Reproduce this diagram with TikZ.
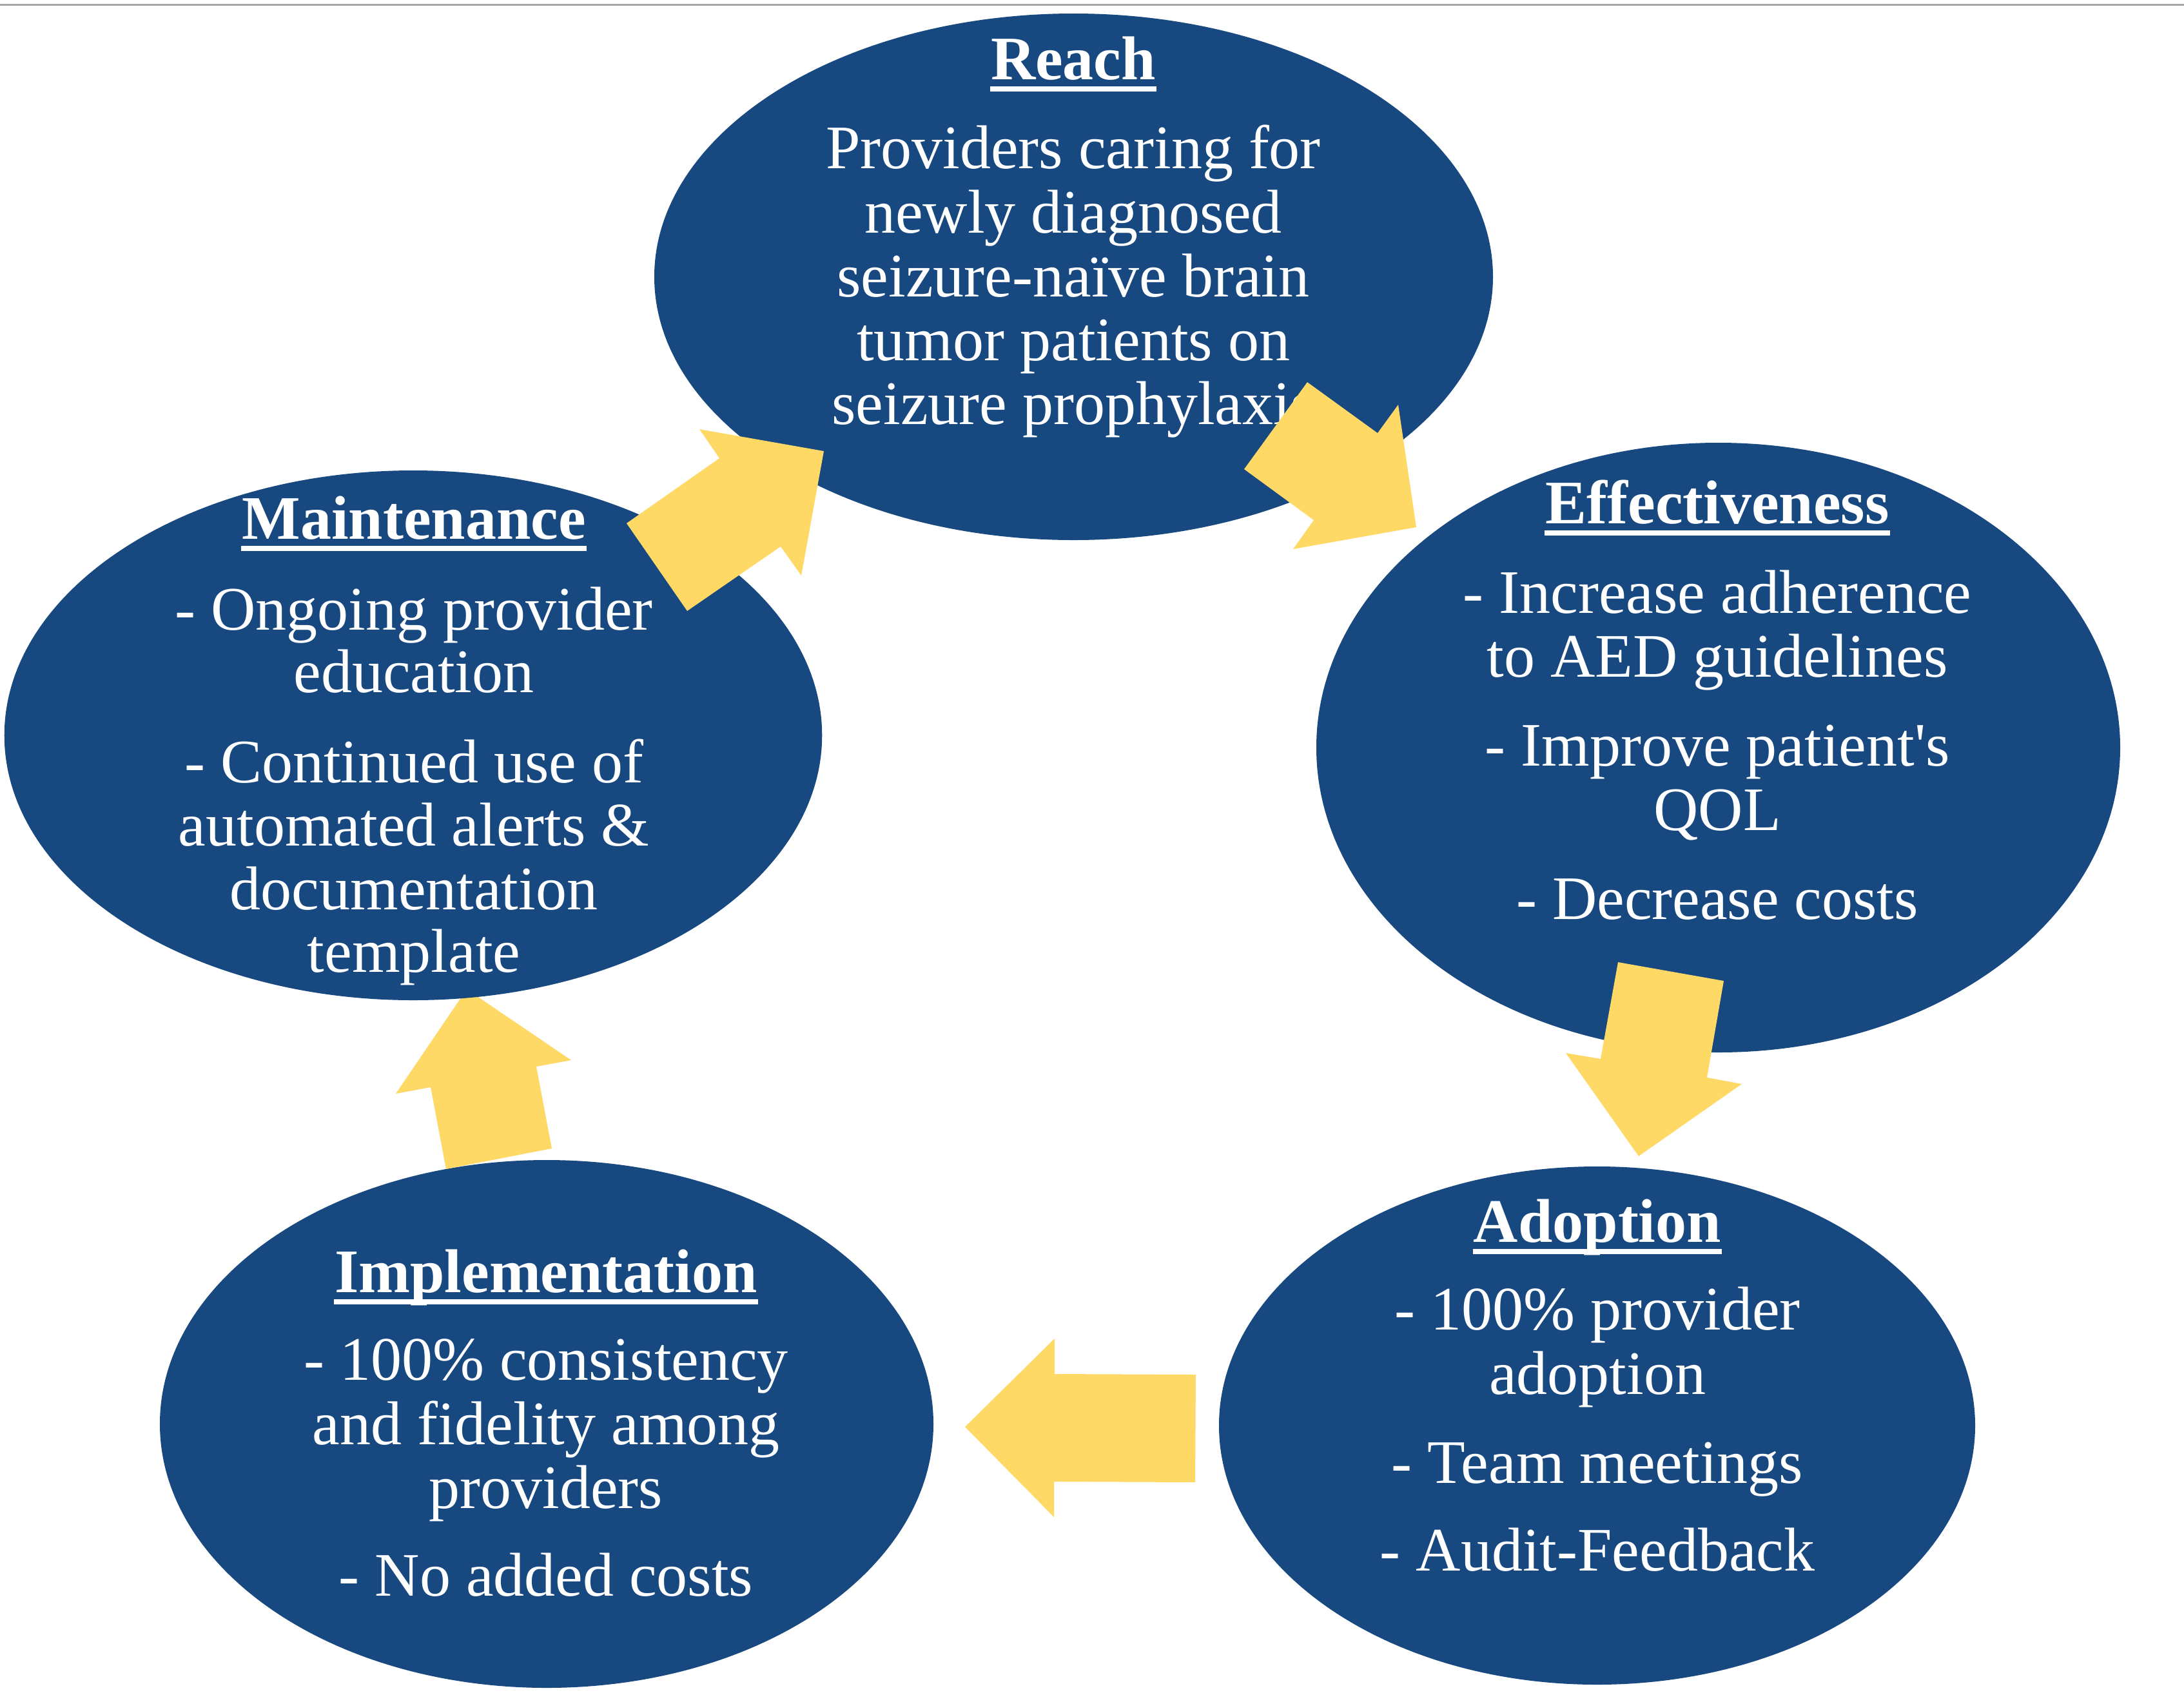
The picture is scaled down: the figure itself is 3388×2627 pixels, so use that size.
\documentclass[tikz,border=0pt]{standalone}
\usepackage{fontspec}
\setmainfont{Liberation Serif}
\usetikzlibrary{shapes.geometric}
\definecolor{ellblue}{RGB}{23,72,128}
\definecolor{arrowgold}{HTML}{FFD966}
\definecolor{topgray}{RGB}{166,166,166}
\tikzset{
  ell/.style={ellipse, fill=ellblue, draw=none, inner sep=0pt},
  txt/.style={text=white, inner sep=0pt, anchor=base, font=\fontsize{19.2pt}{19.86pt}\selectfont},
  ttl/.style={txt, font=\fontsize{19.2pt}{19.86pt}\selectfont\bfseries},
  ul/.style={white, line width=1.6pt},
  blockarrow/.style={fill=arrowgold, draw=none},
}
\begin{document}
\begin{tikzpicture}[x=0.2pt,y=-0.2pt]
\useasboundingbox (0,0) rectangle (3388,2627);
\fill[white] (0,0) rectangle (3388,2627);
\draw[topgray, line width=0.7pt] (0,7.5) -- (3388,7.5);

% ellipses
\node[ell, minimum width=260.2pt, minimum height=163.4pt] (reach) at (1665.5,429.5) {};
\node[ell, minimum width=249.4pt, minimum height=189.2pt] (eff) at (2665.5,1160) {};
\node[ell, minimum width=234.6pt, minimum height=160.8pt] (adopt) at (2477.5,2212) {};
\node[ell, minimum width=240pt, minimum height=163.8pt] (impl) at (848,2209.5) {};
% arrow implementation -> maintenance (under maintenance)
\fill[blockarrow] (692,1814) -- (668,1687) -- (614,1697) -- (724,1535) -- (886,1645) -- (832,1655) -- (856,1782) -- cycle;
\node[ell, minimum width=253.7pt, minimum height=164.4pt] (maint) at (641,1141) {};

% Reach text
\node[ttl] (rT) at (1665,123) {Reach};
\draw[ul] ([yshift=-3pt]rT.base west) -- ([yshift=-3pt]rT.base east);
\node[txt] (r1) at (1665,261) {Providers caring for};
\node[txt] (r2) at (1665,361) {newly diagnosed};
\node[txt] (r3) at (1665,460) {seizure-naïve brain};
\node[txt] (r4) at (1665,559) {tumor patients on};
\node[txt] (r5) at (1665,658) {seizure prophylaxis};

% Maintenance text
\node[ttl] (mT) at (642,836) {Maintenance};
\draw[ul] ([yshift=-3pt]mT.base west) -- ([yshift=-3pt]mT.base east);
\node[txt] (m1) at (642,977) {- Ongoing provider};
\node[txt] (m2) at (642,1074) {education};
\node[txt] (m3) at (642,1214) {- Continued use of};
\node[txt] (m4) at (642,1312) {automated alerts \&};
\node[txt] (m5) at (642,1411) {documentation};
\node[txt] (m6) at (642,1508) {template};

% Effectiveness text
\node[ttl] (eT) at (2664,812) {Effectiveness};
\draw[ul] ([yshift=-3pt]eT.base west) -- ([yshift=-3pt]eT.base east);
\node[txt] (e1) at (2664,951) {- Increase adherence};
\node[txt] (e2) at (2664,1050) {to AED guidelines};
\node[txt] (e3) at (2664,1188) {- Improve patient\textquotesingle s};
\node[txt] (e4) at (2664,1288) {QOL};
\node[txt] (e5) at (2664,1426) {- Decrease costs};

% Adoption text
\node[ttl] (aT) at (2478,1927) {Adoption};
\draw[ul] ([yshift=-3pt]aT.base west) -- ([yshift=-3pt]aT.base east);
\node[txt] (a1) at (2478,2063) {- 100\% provider};
\node[txt] (a2) at (2478,2163) {adoption};
\node[txt] (a3) at (2478,2301) {- Team meetings};
\node[txt] (a4) at (2478,2437) {- Audit-Feedback};

% Implementation text
\node[ttl] (iT) at (847,2005) {Implementation};
\draw[ul] ([yshift=-3pt]iT.base west) -- ([yshift=-3pt]iT.base east);
\node[txt] (i1) at (847,2141) {- 100\% consistency};
\node[txt] (i2) at (847,2241) {and fidelity among};
\node[txt] (i3) at (847,2340) {providers};
\node[txt] (i4) at (847,2476) {- No added costs};

% block arrows on top
\fill[blockarrow] (972,812) -- (1116,711) -- (1085,666) -- (1278,700) -- (1243,893) -- (1211,848) -- (1066,948) -- cycle;
\fill[blockarrow] (2028,593) -- (2137,672) -- (2169,628) -- (2197,818) -- (2006,852) -- (2038,807) -- (1930,728) -- cycle;
\fill[blockarrow] (2510,1493) -- (2674,1522) -- (2648,1672) -- (2702,1682) -- (2542,1794) -- (2429,1634) -- (2483,1643) -- cycle;
\fill[blockarrow] (1855,2133) -- (1636,2132) -- (1636,2077) -- (1497,2214) -- (1635,2354) -- (1635,2299) -- (1854,2300) -- cycle;
\end{tikzpicture}
\end{document}
